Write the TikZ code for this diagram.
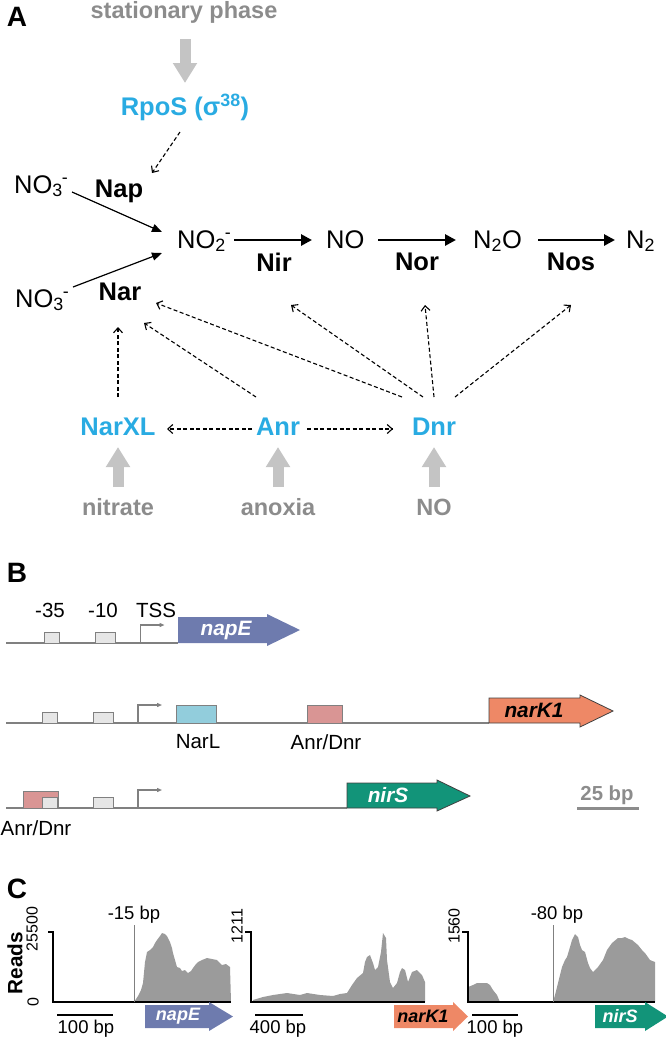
\documentclass[tikz,border=0pt]{standalone}
\usepackage{fontspec}
\setmainfont{Liberation Sans}
\usetikzlibrary{arrows.meta,calc}

\definecolor{regblue}{HTML}{29ABE2}
\definecolor{condgray}{HTML}{8C8C8C}
\definecolor{biggray}{HTML}{C4C4C4}
\definecolor{napcol}{HTML}{6E7BAE}
\definecolor{narcol}{HTML}{EE8866}
\definecolor{nircol}{HTML}{129479}
\definecolor{narlcol}{HTML}{92CDDC}
\definecolor{anrcol}{HTML}{D99594}
\definecolor{boxgray}{HTML}{E6E6E6}
\definecolor{linegray}{HTML}{808080}
\definecolor{readgray}{HTML}{9B9B9B}

\tikzset{
  panellab/.style={font=\fontsize{28}{30}\selectfont\bfseries, inner sep=0pt},
  chem/.style={font=\fontsize{25.5}{30}\selectfont, inner sep=0pt, anchor=base west},
  enz/.style={font=\fontsize{25.5}{30}\selectfont\bfseries, inner sep=0pt},
  reg/.style={font=\fontsize{25.5}{30}\selectfont\bfseries, text=regblue, inner sep=0pt},
  cond/.style={font=\fontsize{23.5}{28}\selectfont\bfseries, text=condgray, inner sep=0pt},
  sitelab/.style={font=\fontsize{20.5}{24}\selectfont, inner sep=0pt},
  genelab/.style={font=\fontsize{20.8}{24}\selectfont\bfseries\itshape, inner sep=0pt},
  cgenelab/.style={font=\fontsize{18}{22}\selectfont\bfseries\itshape, inner sep=0pt},
  bplab/.style={font=\fontsize{18.5}{22}\selectfont, inner sep=0pt},
  ticklab/.style={font=\fontsize{16}{18}\selectfont, inner sep=0pt, rotate=90},
  thinarrow/.style={line width=1.2pt, -{Triangle[length=10pt,width=8pt]}},
  reacarrow/.style={line width=2.8pt, -{Triangle[length=11pt,width=11pt]}},
  dasharrow/.style={line width=1.1pt, dash pattern=on 4pt off 2.5pt, -{Straight Barb[length=5pt,width=9pt]}},
  bigarrow/.style={biggray, line width=11pt, -{Triangle[length=20pt,width=23pt]}},
  tssarrow/.style={linegray, line width=1.2pt, -{Triangle[length=5pt,width=4pt]}},
  sitebox/.style={fill=boxgray, draw=linegray, line width=0.8pt},
  geneB/.style={draw=black!75, line width=0.8pt},
}

\begin{document}
\begin{tikzpicture}[x=1pt, y=-1pt]
\useasboundingbox (0,0) rectangle (666,1042);

% ---------- A: pathway and regulators
\node[panellab] (labA) at (17,17) {A};
\node[cond] (stat) at (184,12) {stationary phase};
\node[reg] (rpos) at (185,107) {RpoS (σ\textsuperscript{38})};

\node[chem] (no3a) at (14,193) {NO\textsubscript{3}\kern-1pt\textsuperscript{-}};
\node[chem] (no3b) at (15,307) {NO\textsubscript{3}\kern-1pt\textsuperscript{-}};
\node[chem] (no2) at (177,248) {NO\textsubscript{2}\kern-1pt\textsuperscript{-}};
\node[chem] (no) at (326,248) {NO};
\node[chem] (n2o) at (473,248) {N\textsubscript{2}O};
\node[chem] (n2) at (626,248) {N\textsubscript{2}};

\node[enz] (nap) at (119,191) {Nap};
\node[enz] (nar) at (120,292) {Nar};
\node[enz] (nir) at (274,262) {Nir};
\node[enz] (nor) at (417,262) {Nor};
\node[enz] (nos) at (571,262) {Nos};

\node[reg] (narxl) at (118,427) {NarXL};
\node[reg] (anr) at (278,427) {Anr};
\node[reg] (dnr) at (434,427) {Dnr};

\node[cond] (nitrate) at (118,507) {nitrate};
\node[cond] (anoxia) at (278,507) {anoxia};
\node[cond] (noin) at (434,507) {NO};

% signals
\draw[bigarrow] ($(stat)+(1,27)$) -- ($(rpos)+(0,-24)$);
\draw[bigarrow] ($(nitrate)+(0,-20)$) -- ($(narxl)+(0,20)$);
\draw[bigarrow] ($(anoxia)+(0,-20)$) -- ($(anr)+(0,20)$);
\draw[bigarrow] ($(noin)+(0,-20)$) -- ($(dnr)+(0,20)$);

% reactions
\draw[thinarrow] ($(no3a.base west)+(58,-1)$) -- ($(no2.base west)+(-15,-16)$);
\draw[thinarrow] ($(no3b.base west)+(58,-20)$) -- ($(no2.base west)+(-15,5)$);
\draw[reacarrow] ($(no2.base west)+(57,-8)$) -- ($(no.base west)+(-14,-8)$);
\draw[reacarrow] ($(no.base west)+(52,-8)$) -- ($(n2o.base west)+(-17,-8)$);
\draw[reacarrow] ($(n2o.base west)+(65,-8)$) -- ($(n2.base west)+(-11,-8)$);

% regulation
\draw[dasharrow] ($(rpos)+(-5,25)$) -- ($(nap)+(33,-18)$);
\draw[dasharrow] ($(narxl)+(0,-30)$) -- ($(nar)+(-2,35)$);
\draw[dasharrow] ($(anr)+(-22,-30)$) -- ($(nar)+(24,31)$);
\draw[dasharrow] ($(dnr)+(-32,-30)$) -- ($(nar)+(36,11)$);
\draw[dasharrow] ($(dnr)+(-11,-30)$) -- ($(nir)+(17,43)$);
\draw[dasharrow] ($(dnr)+(0,-30)$) -- ($(nor)+(8,43)$);
\draw[dasharrow] ($(dnr)+(21,-30)$) -- ($(nos)+(0,43)$);
\draw[dasharrow] ($(anr)+(-26,2)$) -- ($(narxl)+(49,2)$);
\draw[dasharrow] ($(anr)+(29,2)$) -- ($(dnr)+(-41,2)$);

% ---------- B: promoter maps
\node[panellab] (labB) at (17,573) {B};
\node[sitelab] (m35) at (50,610) {-35};
\node[sitelab] (m10) at (103,610) {-10};
\node[sitelab] (tss) at (156,610) {TSS};

\draw[linegray, line width=1.5pt] (6,643) -- (178,643);
\draw[linegray, line width=1.5pt] (6,723) -- (489,723);
\draw[linegray, line width=1.5pt] (6,808) -- (347,808);

\draw[sitebox, fill=narlcol] (176,723) rectangle (216,705);
\draw[sitebox, fill=anrcol] (307,723) rectangle (342,705);
\draw[sitebox, fill=anrcol] (23,808) rectangle (58,791);

\foreach \y/\dx in {643/2.5,723/0,808/0} {
  \draw[sitebox] (42+\dx,\y) rectangle (57+\dx,\y-11);
  \draw[sitebox] (93+\dx,\y) rectangle (113+\dx,\y-11);
  \draw[tssarrow] (138+\dx,\y) -- (138+\dx,\y-18) -- (162+\dx,\y-18);
}

\fill[napcol] (178,643) -- (178,617) -- (267,617) -- (267,614) -- (300,630) -- (267,646) -- (267,643) -- cycle;
\fill[narcol, geneB] (489,723) -- (489,698) -- (580,698) -- (580,695) -- (613,711) -- (580,727) -- (580,723) -- cycle;
\fill[nircol, geneB] (347,808) -- (347,783) -- (437,783) -- (437,780) -- (470,796) -- (437,811) -- (437,808) -- cycle;

\node[genelab, text=white] (napeB) at (226,630) {napE};
\node[genelab] (nark) at (534,710) {narK1};
\node[genelab, text=white] (nirsB) at (388,795) {nirS};

\node[sitelab] (narl) at (198,742) {NarL};
\node[sitelab] (anrdnr) at (326,742) {Anr/Dnr};
\node[sitelab] (anrdnrb) at (36,828) {Anr/Dnr};

\node[font=\fontsize{20.3}{24}\selectfont\bfseries, text=condgray, inner sep=0pt] (bp25) at (607,795) {25 bp};
\draw[condgray, line width=3pt] (577,808) -- (639,808);

% ---------- C: read coverage
\node[panellab] (labC) at (17,889) {C};
\node[font=\fontsize{20.7}{24}\selectfont\bfseries, rotate=90, inner sep=0pt] (reads) at (15,963) {Reads};

% napE
\fill[readgray] (134,1002) -- (136,999) -- (138,996) -- (141,990) -- (143,983) -- (145,962) -- (147,952) -- (150,950) -- (153,947) -- (155,943) -- (157,940) -- (160,936) -- (162,933) -- (165,934) -- (167,936) -- (170,942) -- (172,948) -- (173,953) -- (175,960) -- (177,967) -- (180,968) -- (182,971) -- (185,970) -- (188,973) -- (191,971) -- (193,968) -- (196,964) -- (198,962) -- (202,960) -- (207,958) -- (212,959) -- (217,960) -- (220,963) -- (222,965) -- (226,964) -- (230,967) -- (231,1002) -- cycle;
\draw[line width=1.3pt] (48,932) -- (53,932) -- (53,1002) -- (231,1002);
\draw[linegray, line width=0.9pt] (134,925) -- (134,1002);
\node[bplab] (m15) at (134,915) {-15 bp};
\node[ticklab] (ymaxa) at (32,929) {25500};
\node[ticklab] (yzero) at (33,1002) {0};
\draw[line width=2pt] (57,1015) -- (113,1015);
\node[bplab] (bpa) at (86,1029) {100 bp};
\fill[napcol] (145,1028) -- (145,1005) -- (209,1005) -- (209,1002) -- (233,1016.5) -- (209,1031) -- (209,1028) -- cycle;
\node[cgenelab, text=white] (napeC) at (178,1016) {napE};

% narK1
\fill[readgray] (253,1002) -- (253,1000) -- (263,997) -- (273,995) -- (287,993) -- (300,995) -- (307,993) -- (320,995) -- (333,996) -- (340,994) -- (347,993) -- (352,985) -- (357,978) -- (363,973) -- (365,962) -- (367,957) -- (370,955) -- (373,963) -- (375,970) -- (378,967) -- (381,952) -- (383,933) -- (386,938) -- (387,960) -- (390,982) -- (393,988) -- (397,983) -- (400,972) -- (402,968) -- (405,970) -- (408,982) -- (410,977) -- (412,972) -- (417,970) -- (422,975) -- (425,982) -- (425,1002) -- cycle;
\draw[line width=1.3pt] (245,932) -- (251,932) -- (251,1002) -- (425,1002);
\node[ticklab] (ymaxb) at (237,926) {1211};
\draw[line width=2pt] (255,1015) -- (303,1015);
\node[bplab] (bpb) at (278,1029) {400 bp};
\fill[narcol] (394,1028) -- (394,1005) -- (453,1005) -- (453,1002) -- (468,1016.5) -- (453,1031) -- (453,1028) -- cycle;
\node[cgenelab] (narkC) at (423,1016) {narK1};

% nirS
\fill[readgray] (468,1002) -- (468,987) -- (473,985) -- (477,983) -- (487,983) -- (490,985) -- (493,990) -- (497,995) -- (500,1002) -- cycle;
\fill[readgray] (553,1002) -- (555,995) -- (557,987) -- (560,975) -- (562,967) -- (565,960) -- (567,957) -- (570,947) -- (572,940) -- (575,934) -- (578,937) -- (580,945) -- (582,950) -- (585,952) -- (588,963) -- (590,968) -- (593,972) -- (598,967) -- (603,960) -- (607,950) -- (612,943) -- (618,938) -- (622,938) -- (625,937) -- (629,939) -- (632,940) -- (638,945) -- (642,950) -- (645,953) -- (650,960) -- (655,962) -- (655,1002) -- cycle;
\draw[line width=1.3pt] (462,932) -- (468,932) -- (468,1002) -- (655,1002);
\draw[linegray, line width=0.9pt] (553,925) -- (553,1002);
\node[bplab] (m80) at (557,915) {-80 bp};
\node[ticklab] (ymaxc) at (454,926) {1560};
\draw[line width=2pt] (472,1015) -- (518,1015);
\node[bplab] (bpc) at (495,1029) {100 bp};
\fill[nircol] (595,1028) -- (595,1005) -- (645,1005) -- (645,1002) -- (668,1016.5) -- (645,1031) -- (645,1028) -- cycle;
\node[cgenelab, text=white] (nirsC) at (620,1016) {nirS};
\end{tikzpicture}
\end{document}
